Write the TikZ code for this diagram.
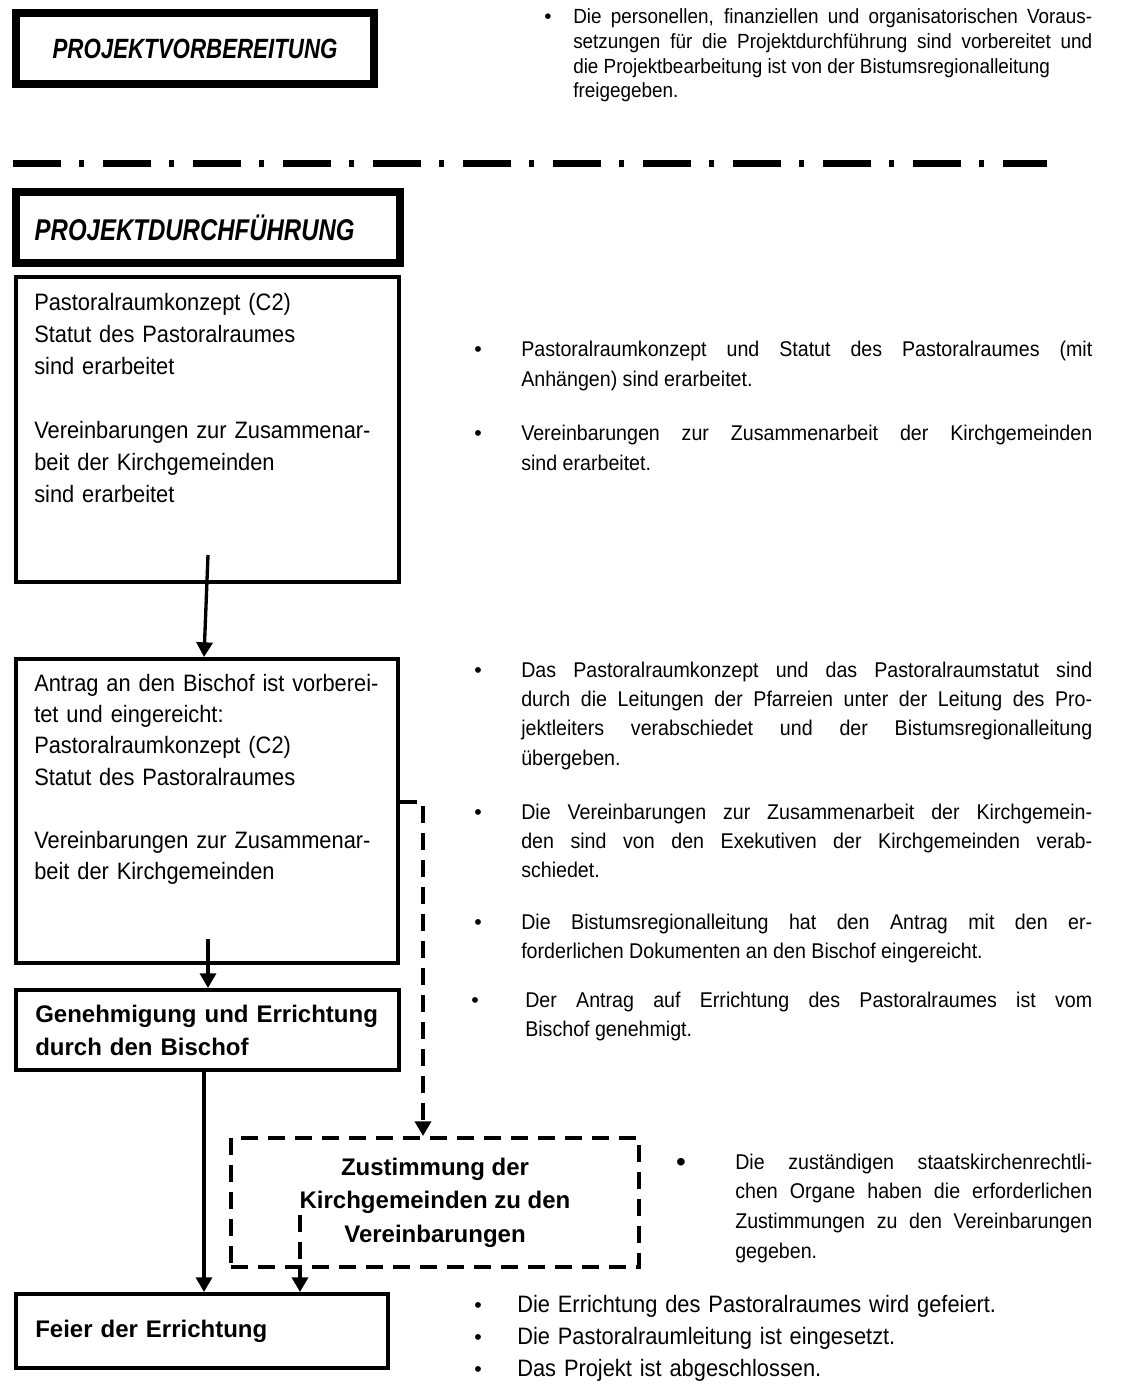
\documentclass[tikz,border=0pt]{standalone}
\usepackage{fontspec}
\setmainfont{Liberation Sans}
\newfontfamily\narrowfont[FakeStretch=0.92]{Liberation Sans}
\newfontfamily\headfont[FakeStretch=0.8]{Liberation Sans}
\usetikzlibrary{arrows.meta}

\begin{document}
\begin{tikzpicture}[x=0.75pt,y=0.75pt,yscale=-1,xscale=1,
  thickbox/.style={draw, line width=6pt, inner sep=0pt, anchor=north west},
  box/.style={draw, line width=3pt, inner sep=0pt, anchor=north west},
  dashbox/.style={box, dash pattern=on 12.75pt off 7.5pt},
  ltext/.style={anchor=base west, inner sep=0pt, text width=270pt, align=left, font=\narrowfont\fontsize{17.8}{24}\selectfont},
  btext/.style={anchor=base west, inner sep=0pt, text width=270pt, align=left, font=\bfseries\fontsize{18}{24.75}\selectfont},
  rtext/.style={anchor=base west, inner sep=0pt, text width=428.25pt, align=justify, font=\narrowfont\fontsize{16}{22}\selectfont},
  bul/.style={anchor=base, inner sep=0pt, font=\fontsize{16}{16}\selectfont},
  flow/.style={line width=2.5pt, -{Triangle[length=11pt,width=12pt]}},
  dflow/.style={flow, line width=3pt, dash pattern=on 12.75pt off 7.5pt}]
\useasboundingbox (0,0) rectangle (1130,1388);

%Shape: Rectangle [Projektvorbereitung]
\node[thickbox, minimum width=268.5pt, minimum height=53.25pt, font=\headfont\bfseries\itshape\fontsize{20.9}{21}\selectfont] (vorb) at (12,9) {PROJEKTVORBEREITUNG};

% Text Node
\node[bul, font=\fontsize{15.4}{15.4}\selectfont] (b1) at (548,24) {\textbullet};
\node[rtext, text width=389.25pt, font=\narrowfont\fontsize{15.4}{18.4}\selectfont] (r1) at (573,24) {Die personellen, finanziellen und organisatorischen Voraus-\linebreak setzungen für die Projektdurchführung sind vorbereitet und\linebreak die Projektbearbeitung ist von der Bistumsregionalleitung\\ freigegeben.};

%Straight Lines [dash dot]
\draw[line width=5.25pt, dash pattern=on 36pt off 13.5pt on 3.75pt off 14.25pt] (13,163) -- (1047,163);

%Shape: Rectangle [Projektdurchfuehrung]
\node[thickbox, minimum height=53.25pt, text width=260pt, inner xsep=14pt, align=left, font=\headfont\bfseries\itshape\fontsize{22.5}{23}\selectfont] (durch) at (12,188) {PROJEKTDURCHFÜHRUNG};

%Shape: Rectangle
\node[box, minimum width=287.25pt, minimum height=228.75pt] (inhalt) at (14,275) {};
% Text Node
\node[ltext] (inhalttxt) at (34,310) {Pastoralraumkonzept (C2)\\Statut des Pastoralraumes\\sind erarbeitet\\[24pt]Vereinbarungen zur Zusammenar-\\beit der Kirchgemeinden\\sind erarbeitet};

% Text Node
\node[bul] (b2a) at (478,356) {\textbullet};
\node[rtext, font=\narrowfont\fontsize{16}{22.5}\selectfont] (r2a) at (521,356) {Pastoralraumkonzept und Statut des Pastoralraumes (mit\linebreak Anhängen) sind erarbeitet.};
\node[bul] (b2b) at (478,440) {\textbullet};
\node[rtext, font=\narrowfont\fontsize{16}{22.5}\selectfont] (r2b) at (521,440) {Vereinbarungen zur Zusammenarbeit der Kirchgemeinden\linebreak sind erarbeitet.};

%Shape: Rectangle
\node[box, minimum width=286.5pt, minimum height=228pt] (antrag) at (14,657) {};
% Text Node
\node[ltext, font=\narrowfont\fontsize{17.8}{23.6}\selectfont] (antragtxt) at (34,691) {Antrag an den Bischof ist vorberei-\\tet und eingereicht:\\Pastoralraumkonzept (C2)\\Statut des Pastoralraumes\\[23.6pt]Vereinbarungen zur Zusammenar-\\beit der Kirchgemeinden};

% Text Node
\node[bul] (b3a) at (478,677) {\textbullet};
\node[rtext] (r3a) at (521,677) {Das Pastoralraumkonzept und das Pastoralraumstatut sind\linebreak durch die Leitungen der Pfarreien unter der Leitung des Pro-\linebreak jektleiters verabschiedet und der Bistumsregionalleitung\linebreak übergeben.};
\node[bul] (b3b) at (478,819) {\textbullet};
\node[rtext] (r3b) at (521,819) {Die Vereinbarungen zur Zusammenarbeit der Kirchgemein-\linebreak den sind von den Exekutiven der Kirchgemeinden verab-\linebreak schiedet.};
\node[bul] (b3c) at (478,929) {\textbullet};
\node[rtext] (r3c) at (521,929) {Die Bistumsregionalleitung hat den Antrag mit den er-\linebreak forderlichen Dokumenten an den Bischof eingereicht.};
\node[bul] (b3d) at (475,1007) {\textbullet};
\node[rtext, text width=425.25pt] (r3d) at (525,1007) {Der Antrag auf Errichtung des Pastoralraumes ist vom\linebreak Bischof genehmigt.};

%Shape: Rectangle
\node[box, minimum width=287.25pt, minimum height=60pt] (geneh) at (14,988) {};
% Text Node
\node[btext] (genehtxt) at (35,1022.5) {Genehmigung und Errichtung\\durch den Bischof};

%Shape: Rectangle [dashed]
\node[dashbox, minimum width=306pt, minimum height=96.75pt, align=center, font=\bfseries\fontsize{18}{25.1}\selectfont] (zust) at (229,1136) {Zustimmung der\\Kirchgemeinden zu den\\Vereinbarungen};

% Text Node
\node[bul, font=\fontsize{21}{21}\selectfont] (b4) at (681,1171) {\textbullet};
\node[rtext, text width=267.75pt, font=\narrowfont\fontsize{16}{22.3}\selectfont] (r4) at (735,1169) {Die zuständigen staatskirchenrechtli-\linebreak chen Organe haben die erforderlichen\linebreak Zustimmungen zu den Vereinbarungen\linebreak gegeben.};

%Shape: Rectangle
\node[box, minimum width=279pt, minimum height=55.5pt] (feier) at (14,1292) {};
% Text Node
\node[btext] (feiertxt) at (35,1337.5) {Feier der Errichtung};

% Text Node
\node[bul] (b5a) at (478,1312) {\textbullet};
\node[ltext, text width=440pt] (r5a) at (517,1312) {Die Errichtung des Pastoralraumes wird gefeiert.};
\node[bul] (b5b) at (478,1344) {\textbullet};
\node[ltext, text width=440pt] (r5b) at (517,1344) {Die Pastoralraumleitung ist eingesetzt.};
\node[bul] (b5c) at (478,1376) {\textbullet};
\node[ltext, text width=440pt] (r5c) at (517,1376) {Das Projekt ist abgeschlossen.};

%Straight Lines [arrows]
\coordinate (p1) at (208,555);
\coordinate (q1) at (204,655);
\draw[flow] (p1) -- (antrag.north -| q1);
\coordinate (p2) at (208,939);
\draw[flow] (p2) -- (geneh.north -| p2);
\coordinate (p3) at (204,1100);
\draw[flow] (geneh.south -| p3) -- (feier.north -| p3);
\coordinate (d1) at (423,802);
\draw[dflow] (antrag.east |- d1) -- (d1) -- (zust.north -| d1);
\coordinate (d2) at (300,1215);
\draw[dflow] (d2) -- (feier.north -| d2);

\end{tikzpicture}
\end{document}
